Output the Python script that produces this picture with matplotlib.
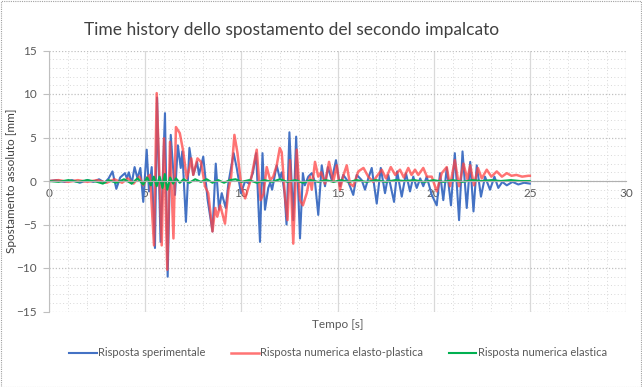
import matplotlib
matplotlib.use("Agg")
import matplotlib.pyplot as plt
from matplotlib.patches import Rectangle
from matplotlib.ticker import MultipleLocator

plt.rcParams['font.family'] = ['Lato', 'DejaVu Sans']

title = "Time history dello spostamento del secondo impalcato"
x_label = "Tempo [s]"
y_label = "Spostamento assoluto [mm]"
series_names = ["Risposta sperimentale", "Risposta numerica elasto-plastica", "Risposta numerica elastica"]

# Risposta sperimentale (t [s], spostamento [mm])
blue_t = [0.0, 0.4, 0.8, 1.2, 1.6, 2.0, 2.3, 2.6, 2.9, 3.1, 3.3, 3.5, 3.7, 3.95, 4.05, 4.15, 4.3, 4.45,
          4.6, 4.75, 4.9, 5.08, 5.2, 5.34, 5.51, 5.62, 5.8, 6.03, 6.17, 6.33, 6.55, 6.7, 6.85, 6.93,
          7.12, 7.3, 7.5, 7.7, 7.8, 8.02, 8.25, 8.5, 8.67, 8.84, 8.98, 9.19, 9.33, 9.6, 9.76, 9.98,
          10.2, 10.4, 10.6, 10.77, 10.97, 11.1, 11.23, 11.4, 11.5, 11.6, 11.84, 12.0, 12.1, 12.25,
          12.35, 12.5, 12.7, 12.85, 13.05, 13.2, 13.3, 13.48, 13.66, 13.83, 14.0, 14.18, 14.35, 14.5,
          14.7, 14.92, 15.13, 15.3, 15.56, 15.82, 16.0, 16.26, 16.43, 16.6, 16.78, 17.04, 17.25,
          17.47, 17.64, 17.94, 18.1, 18.34, 18.56, 18.77, 18.94, 19.12, 19.3, 19.46, 19.64, 19.9,
          20.16, 20.33, 20.5, 20.68, 20.9, 21.1, 21.32, 21.5, 21.72, 21.9, 22.07, 22.24, 22.46,
          22.67, 22.93, 23.16, 23.36, 23.57, 23.8, 24.1, 24.4, 24.7, 25.0]
blue_v = [0.0, 0.1, -0.1, 0.1, -0.2, 0.1, -0.1, 0.2, -0.2, 0.3, 1.1, -0.9, 0.4, 0.9, 0.3, 1.0, -0.3, 1.6,
          0.3, 1.5, -2.4, 3.6, -1.2, 1.6, -7.7, 9.6, -7.0, 7.8, -11.0, 5.3, -1.6, 4.1, 1.5, 3.4,
          -4.7, 3.8, 0.7, 2.2, 0.7, 2.8, -2.2, -5.8, 2.0, -3.3, -1.4, -3.1, -0.2, 3.2, 1.5, -1.4,
          0.0, -0.3, 0.9, 3.2, -7.0, 3.2, -3.3, -0.8, -0.2, -1.0, 1.8, 0.3, 1.0, -1.5,
          -5.0, 5.6, -4.5, 5.1, -6.6, 0.9, -0.5, 0.5, 0.9, -0.1, -3.9, 1.8, -0.6, 1.6,
          0.1, 2.4, -0.6, 0.7, -0.1, -1.6, 0.7, 0.1, -1.0, 0.3, 1.5, -2.6, 1.5,
          -1.4, 0.7, -2.4, 1.1, -1.8, 0.9, -1.2, 0.5, -0.8, 0.3, -0.6, 0.5, -1.6,
          -2.8, 0.9, -2.2, 1.5, -2.8, 3.2, -4.5, 3.4, -3.1, 2.2, -3.5, 1.8, -1.8,
          0.5, -1.0, 0.5, -0.8, -0.1, -0.5, -0.1, -0.4, -0.2, -0.3]

# Risposta numerica elasto-plastica
red_t = [0.0, 0.5, 1.0, 1.5, 2.0, 2.5, 3.0, 3.4, 3.8, 4.1, 4.4, 4.7, 4.9, 5.1, 5.25, 5.46, 5.6, 5.86,
         5.98, 6.15, 6.29, 6.47, 6.6, 6.8, 6.98, 7.16, 7.3, 7.4, 7.5, 7.72, 7.9, 8.11, 8.28, 8.5,
         8.64, 8.75, 8.9, 9.15, 9.33, 9.47, 9.64, 9.8, 10.0, 10.2, 10.4, 10.5, 10.8, 11.0, 11.15,
         11.32, 11.5, 11.66, 11.84, 12.0, 12.1, 12.27, 12.4, 12.53, 12.7, 12.88, 13.05, 13.2, 13.4,
         13.57, 13.66, 13.83, 14.0, 14.15, 14.35, 14.56, 14.78, 14.96, 15.13, 15.3, 15.48, 15.65,
         15.82, 16.08, 16.35, 16.6, 16.86, 17.03, 17.3, 17.52, 17.77, 18.0, 18.25, 18.45, 18.68,
         18.85, 19.03, 19.2, 19.46, 19.65, 19.9, 20.16, 20.42, 20.68, 20.85, 21.1, 21.32, 21.55,
         21.75, 21.9, 22.1, 22.3, 22.5, 22.76, 23.0, 23.28, 23.55, 23.8, 24.05, 24.3, 24.6, 24.92, 25.0]
red_v = [0.0, 0.1, -0.1, 0.1, -0.1, 0.1, -0.2, 0.2, -0.2, 0.3, -0.3, 0.5, -0.5, 0.4, 0.7, -7.4, 10.1, -7.4,
         4.9, -10.2, 4.5, -6.6, 6.2, 5.5, 3.4, 0.3, 1.5, 2.6, 0.7, 2.6, 2.2, -0.6, -1.4, -5.8,
         -3.1, -4.1, -2.8, -4.9, -1.0, 0.5, 5.3, 3.2, -0.6, -2.0, -0.5, 0.2, 3.6, -2.2, -1.5,
         1.6, 0.1, 0.5, 1.8, 3.8, 3.3, -1.8, -4.5, 2.4, -7.2, 3.6, -2.2, -2.8, -1.4,
         0.5, -1.0, 2.2, 0.5, 1.0, -0.3, 2.2, -0.1, 1.8, -1.0, 0.6, 1.8, -0.3,
         -0.6, 1.1, 1.5, 0.5, -0.1, 0.5, 1.3, 0.3, 1.6, 0.7, 1.3, 0.4, 1.5,
         0.7, 1.3, 0.7, 1.5, 0.5, 0.5, -1.2, 0.9, 1.6, -0.6, 2.4, -0.6, 2.0,
         0.2, 1.8, -0.5, 1.5, 0.3, 1.3, 0.5, 1.1, 0.5, 0.9, 0.6, 0.7, 0.5, 0.6, 0.6]

# Risposta numerica elastica
green_t = [0.0, 0.5, 1.0, 1.5, 2.0, 2.5, 2.8, 3.1, 3.5, 3.9, 4.3, 4.6, 4.9, 5.1, 5.3, 5.45, 5.6, 5.75,
           5.9, 6.02, 6.15, 6.3, 6.45, 6.6, 6.8, 7.0, 7.3, 7.6, 7.9, 8.2, 8.5, 8.8, 9.1, 9.4, 9.7,
           10.0, 10.4, 10.8, 11.2, 11.6, 12.0, 12.4, 12.8, 13.2, 13.6, 14.0, 14.4, 14.8, 15.2, 15.6,
           16.0, 16.5, 17.0, 17.5, 18.0, 18.5, 19.0, 19.5, 20.0, 20.5, 21.0, 21.5, 22.0, 22.5,
           23.0, 23.5, 24.0, 24.5, 25.0]
green_v = [0.0, -0.1, 0.1, -0.1, 0.1, -0.1, -0.3, 0.1, -0.2, 0.2, -0.3, 0.3, -0.4, 0.4, -0.5, 0.5, -0.6, 0.5,
           -0.8, 0.8, -1.0, 0.4, -0.3, 0.3, -0.2, 0.2, -0.2, 0.2, -0.1, 0.2, -0.2, 0.1, -0.2, 0.1, 0.2,
           -0.1, 0.1, -0.2, 0.1, -0.1, 0.2, -0.1, 0.1, -0.2, 0.1, -0.1, 0.1, -0.1, 0.1, -0.1,
           0.1, -0.1, 0.1, -0.1, 0.1, 0.0, 0.1, -0.1, 0.1, -0.1, 0.1, -0.1, 0.1, 0.0,
           0.1, 0.0, 0.1, 0.0, 0.0]

fig = plt.figure(figsize=(6.42, 3.87), dpi=100)
ax = fig.add_axes([49/642, 1 - 311.5/387, 577/642, 261/387])

ax.set_xlim(0, 30)
ax.set_ylim(-15, 15)
ax.xaxis.set_major_locator(MultipleLocator(5))
ax.yaxis.set_major_locator(MultipleLocator(5))
ax.xaxis.set_minor_locator(MultipleLocator(1))
ax.yaxis.set_minor_locator(MultipleLocator(1))

ax.grid(which='major', axis='x', color='#d9d9d9', lw=0.9, ls='-')
ax.grid(which='major', axis='y', color='#c0c0c0', lw=0.9, ls=(0, (1, 1.5)))
ax.grid(which='minor', color='#d8d8d8', lw=0.7, ls=(0, (1, 2.5)))
ax.set_axisbelow(True)

for s in ['top', 'right']:
    ax.spines[s].set_visible(False)
ax.spines['left'].set_color('#bfbfbf')
ax.spines['bottom'].set_position(('data', 0))
ax.spines['bottom'].set_color('#b0b0b0')

ax.tick_params(axis='x', which='both', length=0, pad=5, labelsize=8.5, labelcolor='#595959')
ax.tick_params(axis='y', which='major', length=4, color='#bfbfbf', pad=5, labelsize=8.5, labelcolor='#595959')
ax.tick_params(axis='y', which='minor', length=0)

ax.plot(blue_t, blue_v, color='#4472C4', lw=1.5, label=series_names[0], solid_joinstyle='round')
ax.plot(red_t, red_v, color='#FF4545', lw=1.8, alpha=0.75, label=series_names[1], solid_joinstyle='round')
ax.plot(green_t, green_v, color='#00B050', lw=1.5, label=series_names[2], solid_joinstyle='round')

fig.text(12/642, 1 - 181/387, y_label, rotation=90, ha='center', va='center', fontsize=8.5, color='#404040')
fig.text(338/642, 1 - 324/387, x_label, ha='center', va='center', fontsize=8.5, color='#595959')
fig.text(292/642, 1 - 30/387, title, ha='center', va='center', fontsize=12.5, color='#404040')

fig.legend(loc='center', bbox_to_anchor=(338/642, 1 - 353/387), ncol=3, frameon=False,
           fontsize=8, handlelength=2.5, columnspacing=2.3, handletextpad=0.1, labelcolor='#595959')

fig.patches.append(Rectangle((0.001, 0.001), 0.997, 0.997, transform=fig.transFigure, fill=False,
                             edgecolor='#a0a0a0', lw=0.8, ls=(0, (1, 1))))

fig.savefig("out.png", dpi=100)
